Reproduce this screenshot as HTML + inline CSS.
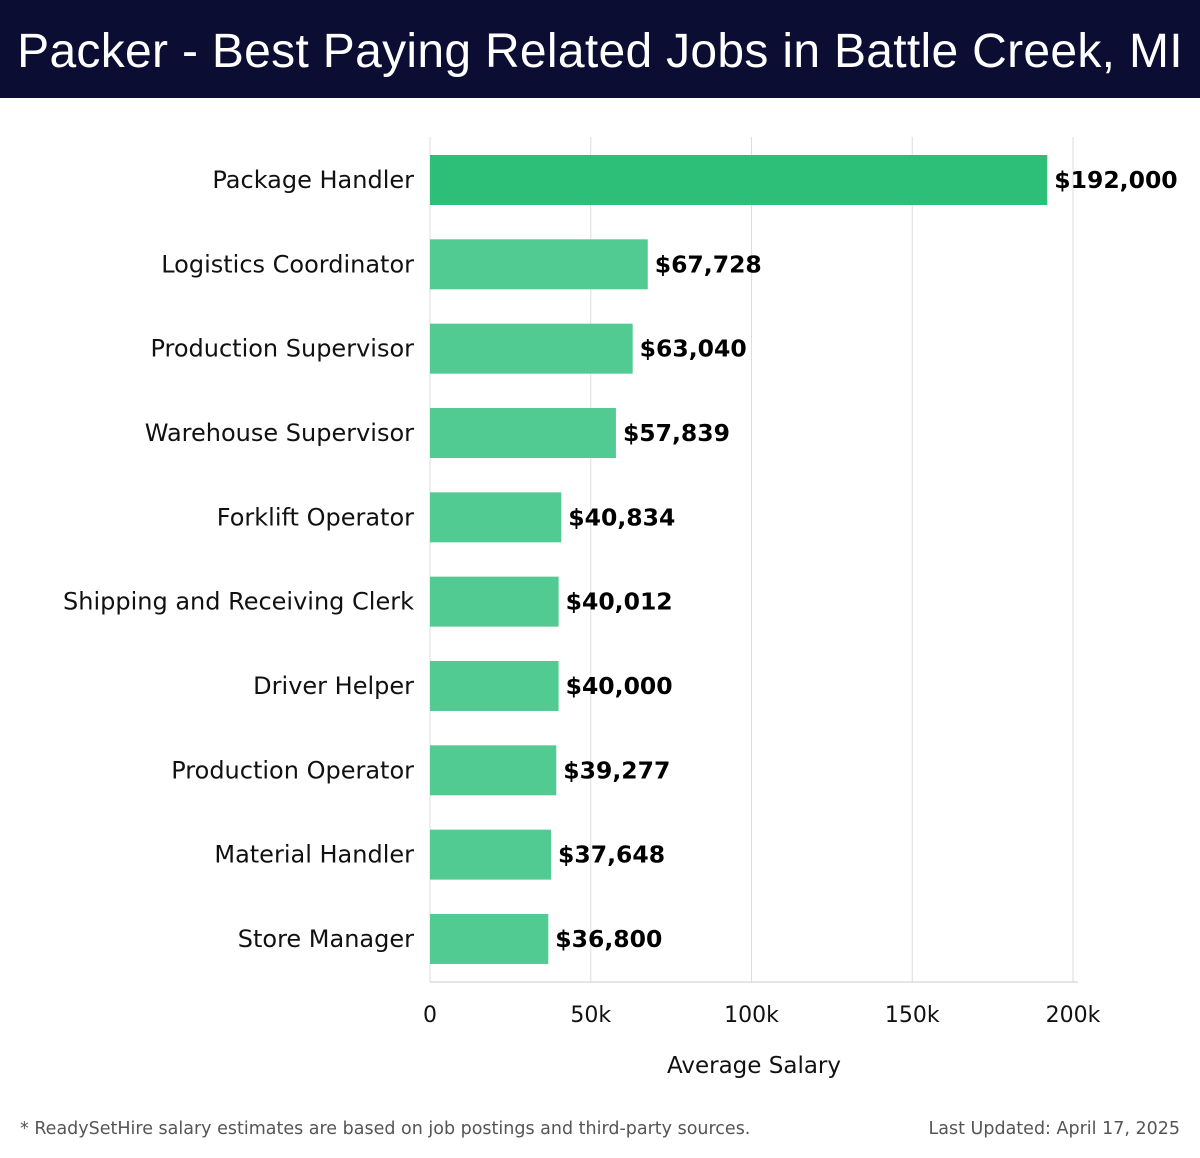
<!DOCTYPE html>
<html><head><meta charset="utf-8"><style>
body{margin:0;width:1200px;height:1158px;background:#fff;font-family:"DejaVu Sans","Liberation Sans",sans-serif;overflow:hidden}
#hdr{position:absolute;left:0;top:0;width:1200px;height:98px;background:#0b0d33;color:#fff;font-size:48px;line-height:104px;text-align:center;font-family:"Liberation Sans",sans-serif;letter-spacing:0.3px}
.foot{position:absolute;top:1119px;font-size:17.5px;color:#555;font-family:"DejaVu Sans",sans-serif}
</style></head><body>
<div id="hdr">Packer - Best Paying Related Jobs in Battle Creek, MI</div>
<svg id="c" width="1200" height="1100" style="position:absolute;left:0;top:0"></svg>
<div class="foot" style="left:20px">* ReadySetHire salary estimates are based on job postings and third-party sources.</div>
<div class="foot" style="right:20px">Last Updated: April 17, 2025</div>
<script>
const categories=["Package Handler","Logistics Coordinator","Production Supervisor","Warehouse Supervisor","Forklift Operator","Shipping and Receiving Clerk","Driver Helper","Production Operator","Material Handler","Store Manager"];
const values=[192000,67728,63040,57839,40834,40012,40000,39277,37648,36800];
const valueLabels=["$192,000","$67,728","$63,040","$57,839","$40,834","$40,012","$40,000","$39,277","$37,648","$36,800"];
const ticks=[0,50000,100000,150000,200000];
const tickLabels=["0","50k","100k","150k","200k"];
const NS="http://www.w3.org/2000/svg",svg=document.getElementById('c');
const x=v=>430+v*643/200000;
const y=i=>180+i*84.33;
function mk(t,a,txt){const e=document.createElementNS(NS,t);for(const k in a)e.setAttribute(k,a[k]);if(txt!==undefined)e.textContent=txt;svg.appendChild(e);return e;}
ticks.forEach((t,i)=>{
 const g=mk('line',{x1:x(t),x2:x(t),y1:137,y2:982,stroke:'#ddd','stroke-width':1});
 
 
 const l=mk('text',{x:x(t),y:1022,'text-anchor':'middle','font-size':22,fill:'#111'},tickLabels[i]);
 
 
});
const ax=mk('line',{x1:430,x2:1078,y1:982,y2:982,stroke:'#ccc','stroke-width':1});


categories.forEach((c,i)=>{
 const b=mk('rect',{x:430,y:y(i)-25,width:x(values[i])-430,height:50,fill:i==0?'#2dbf78':'#52cb93'});
 
 
 const l=mk('text',{x:414,y:y(i)+8,'text-anchor':'end','font-size':23,fill:'#111','textLength':0},c);
 l.removeAttribute('textLength');
 l.setAttribute('font-size','24');
 
 
 const v=mk('text',{x:x(values[i])+7,y:y(i)+8,'font-size':23.5,'font-weight':'bold',fill:'#000'},valueLabels[i]);
 
 
});
const at=mk('text',{x:754,y:1073,'text-anchor':'middle','font-size':23,fill:'#111'},'Average Salary');


</script>
</body></html>
